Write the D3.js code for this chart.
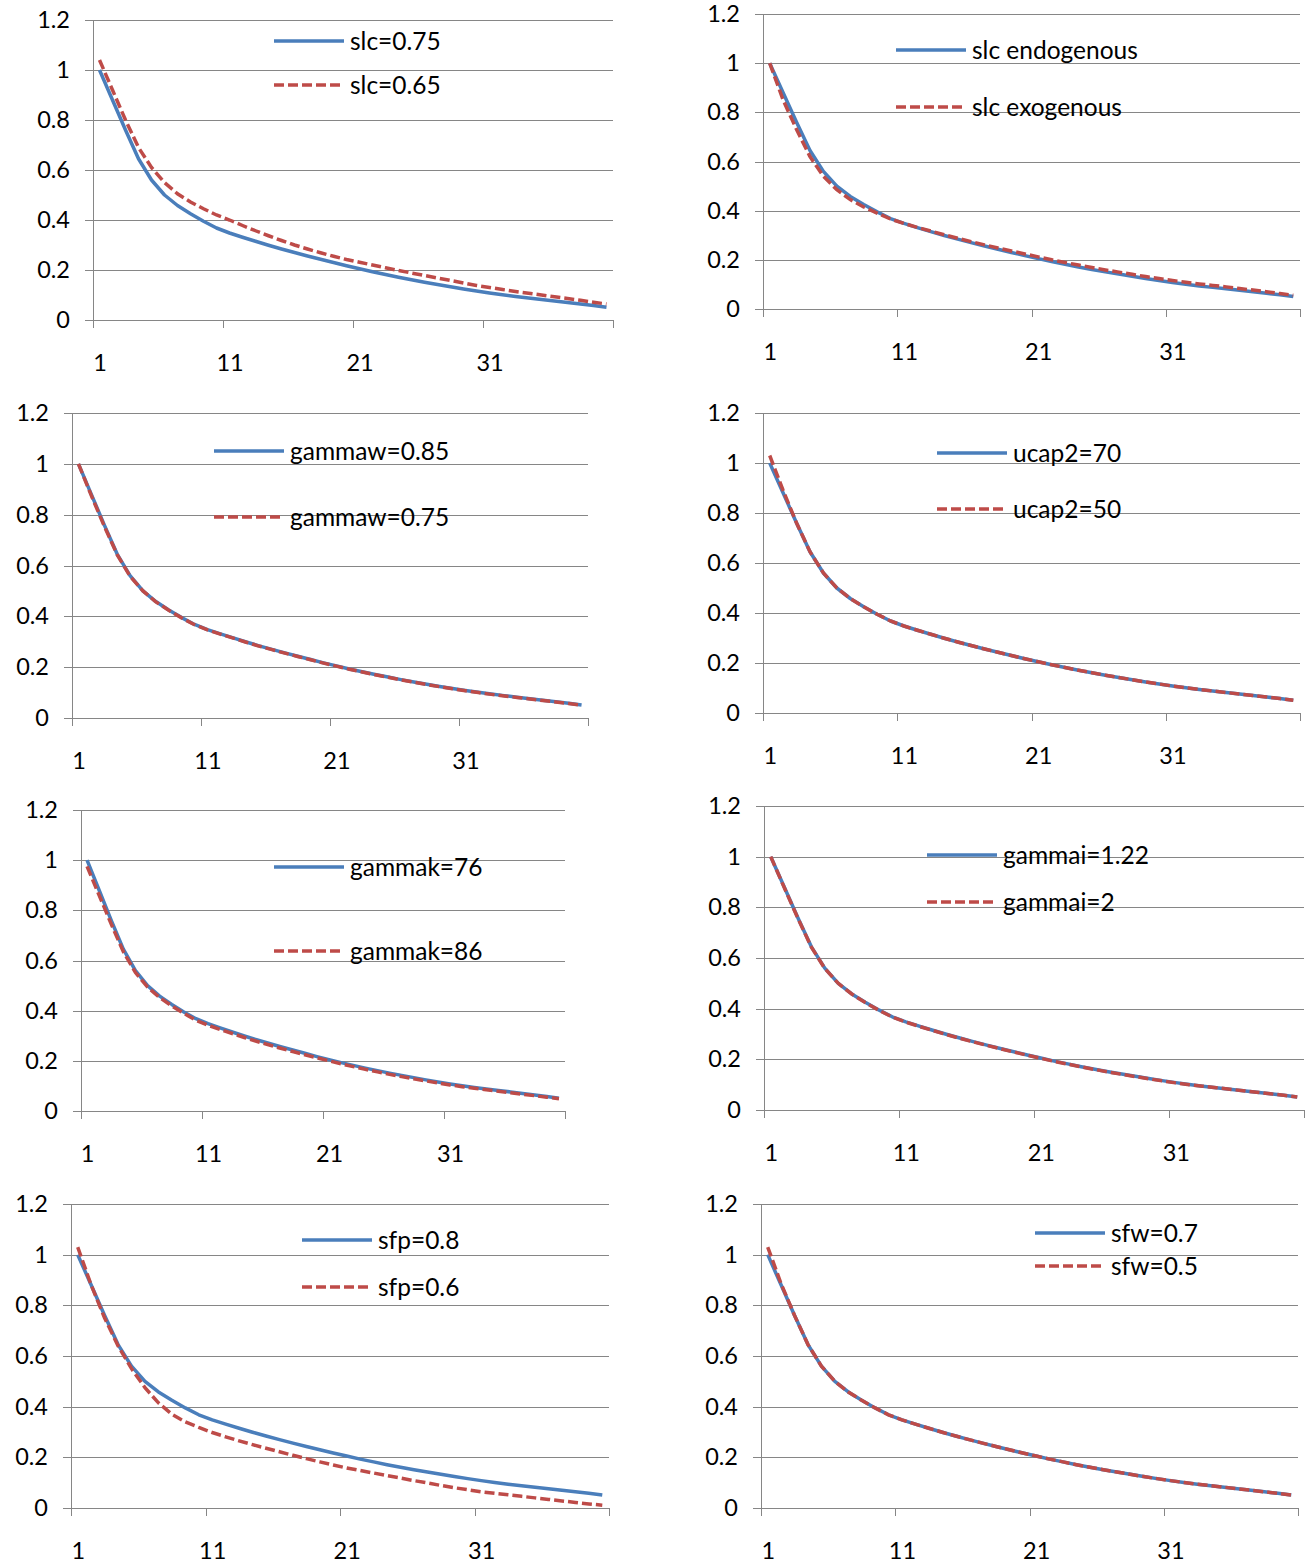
<!DOCTYPE html>
<meta charset="utf-8">
<style>
    body {
        margin: 0;
        background: #fff;
    }

    text {
        font-family: Lato, 'Noto Sans', sans-serif;
        font-size: 23.5px;
        fill: #000;
    }

    .legText {
        font-size: 24.5px;
    }

    .grid line, .axisLine, .xticks line {
        stroke: #868686;
        stroke-width: 1;
        shape-rendering: crispEdges;
    }

    .blue {
        fill: none;
        stroke: #4a7ebb;
        stroke-width: 3.5;
        stroke-linejoin: round;
    }

    .red {
        fill: none;
        stroke: #be4b48;
        stroke-width: 3.5;
        stroke-dasharray: 10 4;
    }
</style>

<body>
    <script src="https://cdn.jsdelivr.net/npm/d3@7"></script>
    <script>
        var width = 1314,
            height = 1567

        // periods on the category axis
        var periods = d3.range(1, 41)
        var yTicks = [0, 0.2, 0.4, 0.6, 0.8, 1, 1.2]
        var xLabels = [1, 11, 21, 31]
        var xTickMarks = [0.5, 10.5, 20.5, 30.5, 40.5]

        // baseline run (blue line, same in every panel)
        var baseline = [1.0, 0.88, 0.76, 0.645, 0.56, 0.5, 0.458, 0.425, 0.395, 0.368,
            0.348, 0.331, 0.315, 0.299, 0.284, 0.27, 0.256, 0.243, 0.23, 0.217,
            0.205, 0.193, 0.182, 0.171, 0.161, 0.151, 0.142, 0.133, 0.124, 0.116,
            0.108, 0.101, 0.094, 0.088, 0.082, 0.076, 0.07, 0.064, 0.058, 0.051]

        // alternative runs (red dashed)
        var slc065 = [1.04, 0.92, 0.8, 0.69, 0.61, 0.55, 0.505, 0.472, 0.445, 0.42,
            0.4, 0.378, 0.357, 0.337, 0.318, 0.3, 0.284, 0.269, 0.255, 0.242,
            0.231, 0.22, 0.209, 0.198, 0.188, 0.178, 0.168, 0.158, 0.148, 0.138,
            0.13, 0.122, 0.114, 0.107, 0.1, 0.093, 0.086, 0.079, 0.071, 0.064]

        var slcExo = [1.0, 0.85, 0.73, 0.62, 0.54, 0.485, 0.445, 0.415, 0.39, 0.366,
            0.348, 0.332, 0.317, 0.302, 0.288, 0.274, 0.261, 0.248, 0.236, 0.224,
            0.212, 0.2, 0.189, 0.179, 0.169, 0.159, 0.15, 0.141, 0.132, 0.124,
            0.116, 0.109, 0.102, 0.096, 0.09, 0.083, 0.077, 0.07, 0.063, 0.056]

        var gammaw075 = [1.0, 0.875, 0.755, 0.643, 0.558, 0.5, 0.457, 0.424, 0.394, 0.367,
            0.347, 0.33, 0.314, 0.298, 0.283, 0.269, 0.255, 0.242, 0.229, 0.216,
            0.204, 0.192, 0.181, 0.17, 0.16, 0.15, 0.141, 0.132, 0.123, 0.115,
            0.107, 0.1, 0.093, 0.087, 0.081, 0.075, 0.069, 0.063, 0.057, 0.05]

        var ucap50 = [1.03, 0.89, 0.76, 0.645, 0.56, 0.5, 0.458, 0.425, 0.395, 0.368,
            0.348, 0.331, 0.315, 0.299, 0.284, 0.27, 0.256, 0.243, 0.23, 0.217,
            0.205, 0.193, 0.182, 0.171, 0.161, 0.151, 0.142, 0.133, 0.124, 0.116,
            0.108, 0.101, 0.094, 0.088, 0.082, 0.076, 0.07, 0.064, 0.058, 0.051]

        var gammak86 = [0.975, 0.86, 0.745, 0.635, 0.552, 0.494, 0.452, 0.419, 0.389, 0.362,
            0.342, 0.325, 0.309, 0.293, 0.278, 0.264, 0.25, 0.237, 0.224, 0.212,
            0.2, 0.188, 0.177, 0.166, 0.156, 0.146, 0.137, 0.128, 0.12, 0.112,
            0.104, 0.097, 0.091, 0.085, 0.079, 0.073, 0.067, 0.061, 0.055, 0.049]

        var gammai2 = [1.0, 0.878, 0.758, 0.644, 0.559, 0.5, 0.458, 0.424, 0.394, 0.367,
            0.347, 0.33, 0.314, 0.298, 0.283, 0.269, 0.255, 0.242, 0.229, 0.216,
            0.204, 0.192, 0.181, 0.17, 0.16, 0.15, 0.141, 0.132, 0.123, 0.115,
            0.107, 0.1, 0.094, 0.088, 0.082, 0.076, 0.07, 0.064, 0.058, 0.051]

        var sfp06 = [1.03, 0.88, 0.75, 0.64, 0.55, 0.475, 0.415, 0.37, 0.34, 0.318,
            0.298, 0.281, 0.265, 0.25, 0.236, 0.222, 0.208, 0.195, 0.182, 0.17,
            0.158, 0.148, 0.138, 0.128, 0.118, 0.108, 0.099, 0.089, 0.08, 0.072,
            0.064, 0.058, 0.052, 0.046, 0.04, 0.034, 0.028, 0.022, 0.016, 0.011]

        var sfw05 = [1.03, 0.885, 0.76, 0.645, 0.56, 0.5, 0.458, 0.425, 0.395, 0.368,
            0.348, 0.331, 0.315, 0.299, 0.284, 0.27, 0.256, 0.243, 0.23, 0.217,
            0.205, 0.193, 0.182, 0.171, 0.161, 0.151, 0.142, 0.133, 0.124, 0.116,
            0.108, 0.101, 0.094, 0.088, 0.082, 0.076, 0.07, 0.064, 0.058, 0.051]

        var blueNames = ['slc=0.75', 'slc endogenous', 'gammaw=0.85', 'ucap2=70',
            'gammak=76', 'gammai=1.22', 'sfp=0.8', 'sfw=0.7']
        var redNames = ['slc=0.65', 'slc exogenous', 'gammaw=0.75', 'ucap2=50',
            'gammak=86', 'gammai=2', 'sfp=0.6', 'sfw=0.5']
        var redSeries = [slc065, slcExo, gammaw075, ucap50, gammak86, gammai2, sfp06, sfw05]

        // where each little chart sits on the page (plot box + legend)
        var panels = [
            {l: 93, r: 613, t: 20, b: 320, lx: 274, ly1: 41, ly2: 85},
            {l: 763, r: 1300, t: 14, b: 309, lx: 896, ly1: 50, ly2: 107},
            {l: 72, r: 588, t: 413, b: 718, lx: 214, ly1: 451, ly2: 517},
            {l: 763, r: 1300, t: 413, b: 713, lx: 937, ly1: 453, ly2: 509},
            {l: 81, r: 565, t: 810, b: 1111, lx: 274, ly1: 867, ly2: 951},
            {l: 764, r: 1304, t: 806, b: 1110, lx: 927, ly1: 855, ly2: 902},
            {l: 71, r: 609, t: 1204, b: 1508, lx: 302, ly1: 1240, ly2: 1287},
            {l: 761, r: 1298, t: 1204, b: 1508, lx: 1035, ly1: 1233, ly2: 1266}
        ]

        var svg = d3.select("body").append("svg")
            .attr("width", width)
            .attr("height", height);

        panels.forEach(function(p, i) {
            var x = d3.scaleLinear().domain([0.5, 40.5]).range([p.l, p.r])
            var y = d3.scaleLinear().domain([0, 1.2]).range([p.b, p.t])

            var g = svg.append("g")

            // gridlines + value labels
            var grid = g.append("g")
                .attr("class", "grid")
                .attr("transform", "translate(" + p.r + ",0)")
                .call(d3.axisLeft(y)
                    .tickValues(yTicks)
                    .tickSize(p.r - p.l + 8)
                    .tickPadding(15)
                    .tickFormat(function(d) { return String(d) }))
            grid.select(".domain").remove()

            // vertical axis line
            g.append("line")
                .attr("class", "axisLine")
                .attr("x1", p.l).attr("x2", p.l)
                .attr("y1", p.t).attr("y2", p.b)

            // category tick marks
            var xt = g.append("g")
                .attr("class", "xticks")
                .attr("transform", "translate(0," + p.b + ")")
                .call(d3.axisBottom(x)
                    .tickValues(xTickMarks)
                    .tickSize(8)
                    .tickFormat(""))
            xt.select(".domain").remove()

            // category labels
            var xl = g.append("g")
                .attr("transform", "translate(0," + p.b + ")")
                .call(d3.axisBottom(x)
                    .tickValues(xLabels)
                    .tickSize(0))
            xl.select(".domain").remove()
            xl.selectAll("text").attr("y", 43).attr("dy", "0.35em")

            var line = d3.line()
                .x(function(d, j) { return x(periods[j]) })
                .y(function(d) { return y(d) })

            g.append("path").attr("class", "blue").attr("d", line(baseline))
            g.append("path").attr("class", "red").attr("d", line(redSeries[i]))

            // legend
            var leg = g.append("g")
            leg.append("line").attr("class", "blue")
                .attr("x1", p.lx).attr("x2", p.lx + 70)
                .attr("y1", p.ly1).attr("y2", p.ly1)
            leg.append("text").attr("class", "legText")
                .attr("x", p.lx + 76).attr("y", p.ly1).attr("dy", "0.35em")
                .text(blueNames[i])
            leg.append("line").attr("class", "red")
                .attr("x1", p.lx).attr("x2", p.lx + 70)
                .attr("y1", p.ly2).attr("y2", p.ly2)
            leg.append("text").attr("class", "legText")
                .attr("x", p.lx + 76).attr("y", p.ly2).attr("dy", "0.35em")
                .text(redNames[i])
        })
    </script>
